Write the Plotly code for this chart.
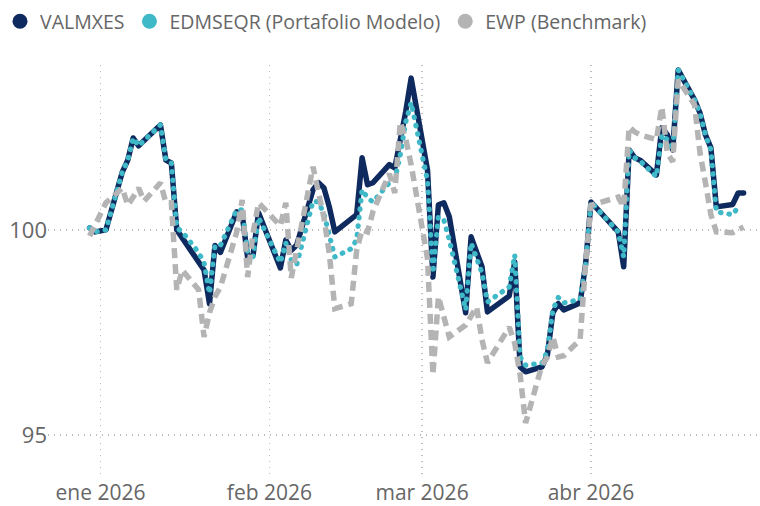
import plotly.graph_objects as go

dates = [
    "2025-12-30", "2025-12-31", "2026-01-02", "2026-01-05", "2026-01-06", "2026-01-07", "2026-01-08", "2026-01-09",
    "2026-01-12", "2026-01-13", "2026-01-14", "2026-01-15", "2026-01-16",
    "2026-01-19", "2026-01-20", "2026-01-21", "2026-01-22", "2026-01-23",
    "2026-01-26", "2026-01-27", "2026-01-28", "2026-01-29", "2026-01-30",
    "2026-02-03", "2026-02-04", "2026-02-05", "2026-02-06",
    "2026-02-09", "2026-02-10", "2026-02-11", "2026-02-12", "2026-02-13",
    "2026-02-16", "2026-02-17", "2026-02-18", "2026-02-19", "2026-02-20",
    "2026-02-23", "2026-02-24", "2026-02-25", "2026-02-26", "2026-02-27",
    "2026-03-02", "2026-03-03", "2026-03-04", "2026-03-05", "2026-03-06",
    "2026-03-09", "2026-03-10", "2026-03-11", "2026-03-12", "2026-03-13",
    "2026-03-17", "2026-03-18", "2026-03-19", "2026-03-20",
    "2026-03-23", "2026-03-24", "2026-03-25", "2026-03-26", "2026-03-27",
    "2026-03-30", "2026-03-31", "2026-04-01",
    "2026-04-06", "2026-04-07", "2026-04-08", "2026-04-09", "2026-04-10",
    "2026-04-13", "2026-04-14", "2026-04-15", "2026-04-16", "2026-04-17",
    "2026-04-20", "2026-04-21", "2026-04-22", "2026-04-23", "2026-04-24",
    "2026-04-27", "2026-04-28", "2026-04-29",
]

valmxes = [
    100.05, 99.95, 100.0, 101.41, 101.7, 102.24, 102.05, 102.17,
    102.56, 101.7, 101.63, 100.0, 99.8,
    99.2, 99.02, 98.2, 99.62, 99.45,
    100.44, 100.37, 99.32, 99.39, 100.42,
    99.07, 99.75, 99.5, 99.63,
    100.98, 101.15, 101.02, 100.55, 99.95,
    100.24, 100.37, 101.76, 101.1, 101.15,
    101.59, 101.51, 102.12, 102.88, 103.7,
    101.46, 98.85, 100.61, 100.66, 100.32,
    97.98, 99.83, 99.46, 99.1, 98.0,
    98.39, 99.22, 96.66, 96.54,
    96.66, 96.95, 97.98, 98.2, 98.05,
    98.22, 99.15, 100.68,
    99.95, 99.1, 101.95, 101.76, 101.7,
    101.34, 102.49, 102.32, 101.95, 103.9,
    103.17, 102.85, 102.32, 102.0, 100.56,
    100.62, 100.9, 100.9,
]

edmseqr = [
    100.05, 99.95, 100.0, 101.41, 101.7, 102.24, 102.05, 102.17,
    102.56, 101.7, 101.63, 100.05, 99.95,
    99.45, 99.2, 98.45, 99.62, 99.62,
    100.49, 100.49, 99.45, 99.35, 100.3,
    99.2, 99.68, 99.27, 99.15,
    100.7, 100.68, 100.39, 99.85, 99.34,
    99.54, 99.76, 100.98, 100.78, 100.68,
    101.15, 101.22, 101.83, 102.63, 103.1,
    101.2, 98.95, 100.32, 100.24, 99.76,
    98.05, 99.68, 99.35, 98.95, 98.24,
    98.61, 99.39, 96.9, 96.7,
    96.75, 97.05, 98.05, 98.35, 98.22,
    98.3, 99.15, 100.68,
    99.95, 99.34, 101.95, 101.76, 101.68,
    101.3, 102.32, 102.2, 101.95, 103.9,
    103.17, 102.85, 102.32, 101.95, 100.44,
    100.37, 100.56, None,
]

ewp = [
    99.85, 100.1, 100.66, 101.02, 100.6, 100.8, 101.02, 100.7,
    101.15, 100.66, 100.66, 98.54, 99.02,
    98.54, 97.39, 97.98, 98.37, 98.6,
    99.95, 100.73, 98.85, 99.93, 100.66,
    100.1, 100.66, 98.83, 99.5,
    101.54, 100.9, 100.3, 99.4, 98.08,
    98.2, 99.5, 100.0, 99.95, 100.45,
    101.37, 100.9, 102.63, 102.22, 101.59,
    99.3, 96.46, 98.37, 97.88, 97.39,
    97.68, 97.88, 98.12, 97.32, 96.76,
    97.63, 97.24, 96.46, 95.29,
    96.7, 96.9, 97.39, 96.9, 96.93,
    97.32, 99.15, 100.6,
    100.8, 100.56, 102.51, 102.39, 102.32,
    102.2, 103.0, 101.88, 101.66, 103.66,
    103.05, 101.88, 101.15, 100.37, 99.95,
    99.93, 100.0, 100.07,
]

series_names = ["VALMXES", "EDMSEQR (Portafolio Modelo)", "EWP (Benchmark)"]
series_colors = ["#0f2a5f", "#3fb9c8", "#b4b4b4"]

month_ticks = ["2026-01-01", "2026-02-01", "2026-03-01", "2026-04-01"]
month_labels = ["ene 2026", "feb 2026", "mar 2026", "abr 2026"]
y_ticks = [95, 100]

FONT = "Open Sans"
TXT = "#666666"

fig = go.Figure()

fig.add_trace(go.Scatter(x=dates, y=valmxes, mode="lines", name=series_names[0],
                         line=dict(color=series_colors[0], width=5.5), showlegend=False))
fig.add_trace(go.Scatter(x=dates, y=edmseqr, mode="lines", name=series_names[1],
                         line=dict(color=series_colors[1], width=5.2, dash="0.5px,8px"),
                         showlegend=False))
fig.add_trace(go.Scatter(x=dates, y=ewp, mode="lines", name=series_names[2],
                         line=dict(color=series_colors[2], width=5.5, dash="10px,6px"),
                         showlegend=False))

for nm, col in zip(series_names, series_colors):
    fig.add_trace(go.Scatter(x=[None], y=[None], mode="markers", name=nm,
                             marker=dict(color=col, size=15, symbol="circle")))

fig.update_layout(
    width=760, height=506,
    margin=dict(l=48, r=0, t=65, b=28, pad=0, autoexpand=False),
    paper_bgcolor="white", plot_bgcolor="white",
    font=dict(family=FONT, color=TXT, size=19.5),
    showlegend=True,
    legend=dict(orientation="h", xref="container", yref="container",
                x=0.0, y=0.996, xanchor="left", yanchor="top",
                font=dict(family=FONT, size=19.5, color=TXT),
                itemsizing="trace", tracegroupgap=0, itemwidth=30),
    hovermode=False,
)

fig.update_xaxes(
    type="date", automargin=False,
    range=["2025-12-22 08:48", "2026-05-02 00:15"],
    tickmode="array", tickvals=month_ticks, ticktext=month_labels,
    showgrid=True, gridcolor="#bdbdbd", gridwidth=1.3, griddash="1px,5px",
    zeroline=False, showline=False, ticks="", ticklabelstandoff=0,
    tickfont=dict(family=FONT, size=21, color=TXT),
)
fig.update_yaxes(
    range=[93.95, 104.02], automargin=False,
    tickmode="array", tickvals=y_ticks, ticktext=[str(v) for v in y_ticks],
    showgrid=True, gridcolor="#bdbdbd", gridwidth=1.3, griddash="1px,5px",
    zeroline=False, showline=False, ticks="",
    tickfont=dict(family=FONT, size=22, color=TXT),
)

post = """
var s = document.createElement('style');
s.innerHTML = 'html,body{margin:0;padding:0;overflow:hidden}' +
              '.scatterlayer .trace:nth-of-type(1) path.js-line{stroke-linecap:round;stroke-linejoin:round}' +
              '.scatterlayer .trace:nth-of-type(2) path.js-line{stroke-linecap:round;stroke-linejoin:round}';
document.head.appendChild(s);
"""

fig.write_html("out.html", post_script=post,
               config={"displayModeBar": False, "staticPlot": True})
